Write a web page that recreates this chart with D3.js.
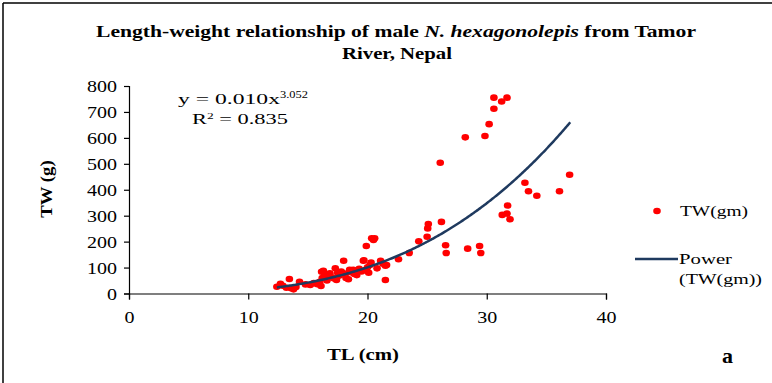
<!DOCTYPE html>
<html>
<head>
<meta charset="utf-8">
<script src="https://cdn.jsdelivr.net/npm/d3@7/dist/d3.min.js"></script>
<style>
  html, body { margin: 0; padding: 0; background: #fff; }
  svg { display: block; }
</style>
</head>
<body>
<svg id="chart" width="772" height="383"></svg>
<script>
// ---- data ----
const tlValues = [12.4, 12.7, 12.9, 13.2, 13.45, 13.6, 13.8, 14.0, 14.3, 14.8, 15.2, 15.5, 15.8, 15.9,
  16.0, 16.1, 16.15, 16.2, 16.3, 16.4, 16.5, 16.6, 16.7, 16.85, 17.0, 17.2, 17.3, 17.4, 17.5, 17.6,
  17.8, 18.0, 18.0, 18.1, 18.2, 18.4, 18.5, 18.6, 18.8, 18.9, 19.0, 19.1, 19.3, 19.5, 19.65, 19.7,
  19.8, 19.9, 20.0, 20.1, 20.2, 20.3, 20.35, 20.5, 20.6, 20.8, 21.1, 21.3, 21.5, 21.5, 21.6, 22.6,
  23.5, 24.3, 25.0, 25.05, 25.1, 26.1, 26.2, 26.55, 26.6, 28.2, 28.4, 29.4, 29.5, 29.85, 30.2,
  30.6, 30.6, 31.25, 31.3, 31.7, 31.7, 31.75, 31.95, 33.2, 33.5, 34.2, 36.1, 36.95];
const twValues = [26, 37, 30, 22, 56, 20, 16, 25, 45, 35, 33, 40, 36, 39,
  45, 29, 84, 60, 88, 65, 75, 50, 70, 78, 62, 58, 97, 52, 80, 68,
  85, 126, 78, 71, 60, 55, 91, 82, 91, 75, 88, 71, 95, 85, 126, 128,
  90, 183, 101, 80, 110, 119, 213, 206, 213, 97, 126, 115, 52, 107, 110, 132,
  156, 201, 219, 251, 268, 504, 276, 186, 156, 602, 173, 183, 156, 607, 653,
  755, 712, 740, 303, 755, 308, 339, 286, 427, 394, 377, 394, 458];
// power trend line y = a * x^b, drawn over the observed TL range
const powerFit = { a: 0.0108, b: 3.052, from: 12.4, to: 37 };
const xTicks = [0, 10, 20, 30, 40];
const yTicks = [0, 100, 200, 300, 400, 500, 600, 700, 800];
const titleLines = ["Length-weight relationship of male ", "N. hexagonolepis", " from Tamor", "River, Nepal"];

const FONT = "'Liberation Serif', 'Times New Roman', Tinos, 'DejaVu Serif', serif";
const STRETCH = 1.25;
const svg = d3.select("#chart").attr("font-family", FONT);

function stretch(sel, f) {
  sel.each(function () {
    const w = this.getComputedTextLength();
    d3.select(this).attr("textLength", w * f).attr("lengthAdjust", "spacingAndGlyphs");
  });
  return sel;
}

// frame
svg.append("line").attr("x1", 3).attr("y1", 3).attr("x2", 772).attr("y2", 3).attr("stroke", "#000").attr("stroke-width", 1.5);
svg.append("line").attr("x1", 3).attr("y1", 3).attr("x2", 3).attr("y2", 383).attr("stroke", "#000").attr("stroke-width", 1.5);

const x = d3.scaleLinear().domain([0, 40]).range([129, 606]);
const y = d3.scaleLinear().domain([0, 800]).range([293.5, 86]);

// axes
const xAxis = svg.append("g").attr("transform", `translate(0,${y(0)})`)
  .call(d3.axisBottom(x).tickValues(xTicks).tickSize(6).tickPadding(12));
const yAxis = svg.append("g").attr("transform", `translate(${x(0)},0)`)
  .call(d3.axisLeft(y).tickValues(yTicks).tickSize(5).tickPadding(7));
[xAxis, yAxis].forEach(g => {
  g.attr("font-family", FONT).attr("font-size", 16);
  g.select(".domain").attr("stroke", "#000").attr("stroke-width", 1.2);
  g.selectAll(".tick line").attr("stroke", "#000").attr("stroke-width", 1.2);
  g.selectAll(".tick text").attr("fill", "#000");
  stretch(g.selectAll(".tick text"), STRETCH);
});
xAxis.selectAll(".tick text").attr("dy", "0.71em");
yAxis.selectAll(".tick text").attr("dy", "0.35em");

// points
const pts = tlValues.map((t, i) => ({ tl: t, tw: twValues[i] }));
svg.append("g").selectAll("ellipse").data(pts).enter().append("ellipse")
  .attr("cx", d => x(d.tl)).attr("cy", d => y(d.tw))
  .attr("rx", 3.8).attr("ry", 3.3).attr("fill", "#ff0000");

// power trend line
const curveX = d3.range(powerFit.from, powerFit.to + 0.001, 0.1);
const line = d3.line().x(d => x(d)).y(d => y(powerFit.a * Math.pow(d, powerFit.b)));
svg.append("path").datum(curveX).attr("d", line)
  .attr("fill", "none").attr("stroke", "#1f3a5f").attr("stroke-width", 2.5);

// title
const t1 = svg.append("text").attr("x", 396).attr("y", 37).attr("text-anchor", "middle")
  .attr("font-size", 17).attr("font-weight", "bold")
  .attr("textLength", 600).attr("lengthAdjust", "spacingAndGlyphs");
t1.append("tspan").text(titleLines[0]);
t1.append("tspan").attr("font-style", "italic").text(titleLines[1]);
t1.append("tspan").text(titleLines[2]);
svg.append("text").attr("x", 397).attr("y", 59).attr("text-anchor", "middle")
  .attr("font-size", 17).attr("font-weight", "bold")
  .attr("textLength", 110).attr("lengthAdjust", "spacingAndGlyphs")
  .text(titleLines[3]);

// equation
const eq = svg.append("text").attr("x", 178).attr("y", 104).attr("font-size", 15);
eq.append("tspan").text("y = 0.010x").attr("textLength", 102).attr("lengthAdjust", "spacingAndGlyphs");
eq.append("tspan").attr("dy", -6).attr("font-size", 11).text("3.052")
  .attr("textLength", 28).attr("lengthAdjust", "spacingAndGlyphs");
const r2 = svg.append("text").attr("x", 192).attr("y", 124).attr("font-size", 15);
r2.append("tspan").text("R");
r2.append("tspan").attr("dy", -5).attr("font-size", 9).text("2");
r2.append("tspan").attr("dy", 5).text(" = 0.835");
r2.attr("textLength", 96).attr("lengthAdjust", "spacingAndGlyphs");

// axis titles
stretch(svg.append("text").attr("x", 363).attr("y", 360).attr("text-anchor", "middle")
  .attr("font-size", 17).attr("font-weight", "bold").text("TL (cm)"), 1.22);
stretch(svg.append("text").attr("transform", "translate(52,189) rotate(-90)").attr("text-anchor", "middle")
  .attr("font-size", 17).attr("font-weight", "bold").text("TW (g)"), 1.1);

// legend
svg.append("ellipse").attr("cx", 657).attr("cy", 211).attr("rx", 3.8).attr("ry", 3.3).attr("fill", "#ff0000");
svg.append("text").attr("x", 680).attr("y", 216).attr("font-size", 15).text("TW(gm)")
  .attr("textLength", 68).attr("lengthAdjust", "spacingAndGlyphs");
svg.append("line").attr("x1", 635).attr("x2", 678).attr("y1", 259).attr("y2", 259)
  .attr("stroke", "#1f3a5f").attr("stroke-width", 2.5);
svg.append("text").attr("x", 679).attr("y", 264).attr("font-size", 15).text("Power")
  .attr("textLength", 53).attr("lengthAdjust", "spacingAndGlyphs");
svg.append("text").attr("x", 679).attr("y", 284).attr("font-size", 15).text("(TW(gm))")
  .attr("textLength", 83).attr("lengthAdjust", "spacingAndGlyphs");

// panel label
svg.append("text").attr("x", 722).attr("y", 363).attr("font-size", 22).attr("font-weight", "bold").text("a");
</script>
</body>
</html>
